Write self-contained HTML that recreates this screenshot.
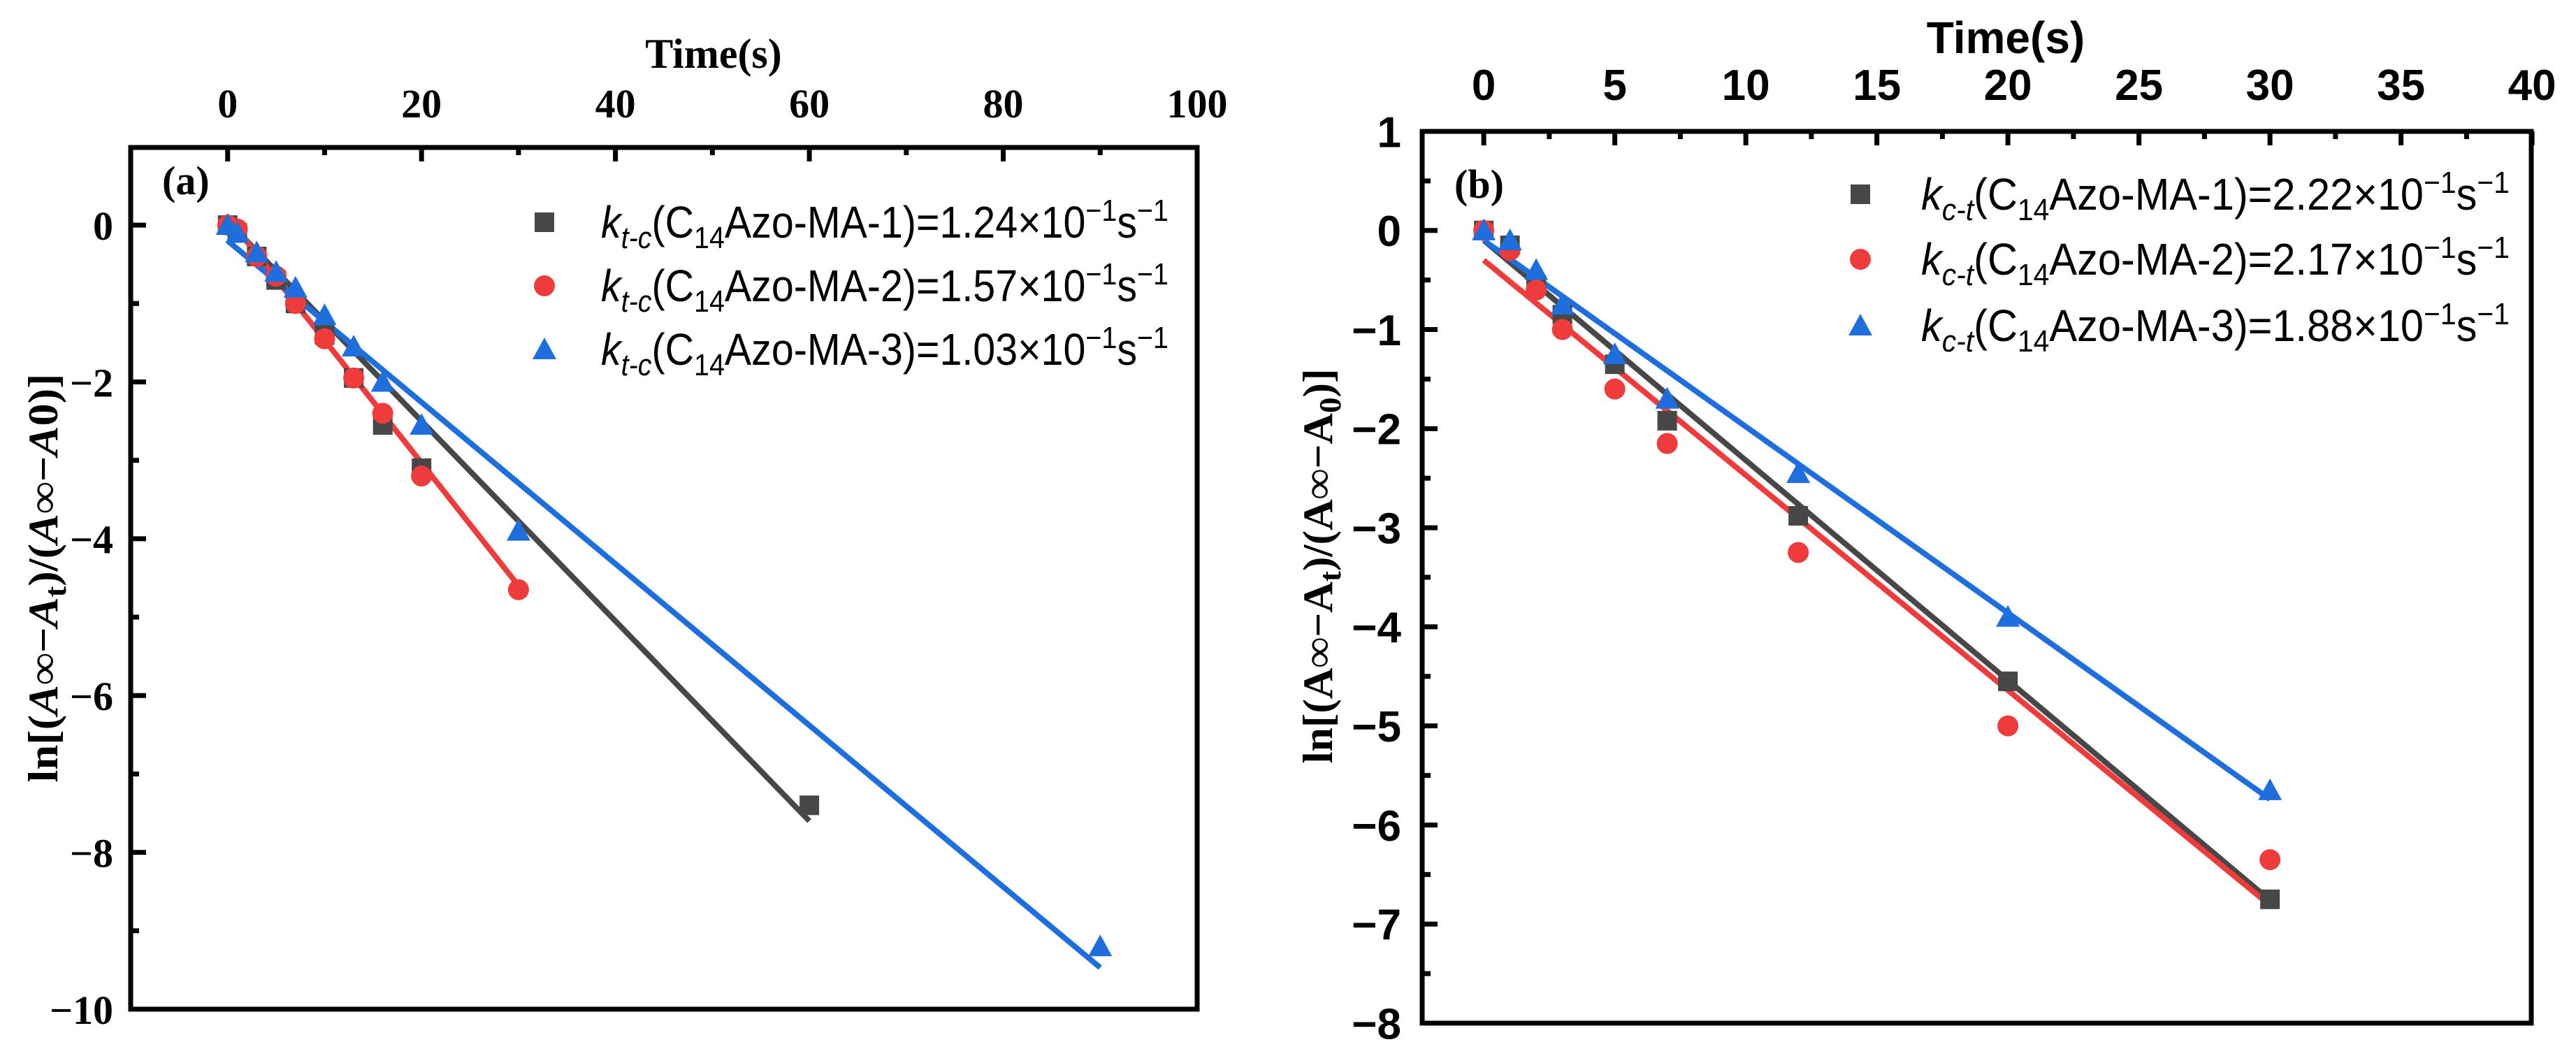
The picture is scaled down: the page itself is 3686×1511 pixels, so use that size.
<!DOCTYPE html>
<html><head><meta charset="utf-8"><style>
html,body{margin:0;padding:0;background:#fff;overflow:hidden;}
svg{display:block;}
.tm{font-family:"Liberation Serif",serif;font-weight:bold;}
.ar{font-family:"Liberation Sans",sans-serif;}
.arb{font-family:"Liberation Sans",sans-serif;font-weight:bold;}
</style></head><body>
<svg id="chart" width="3686" height="1511" viewBox="0 0 3686 1511" xmlns="http://www.w3.org/2000/svg"></svg>
<script>
// Panel (a) data
const aXTicks = [0,20,40,60,80,100];
const aYTicks = [0,-2,-4,-6,-8,-10];
const aS1x = [0,1,3,5,7,10,13,16,20,60];
const aS1y = [0,-0.1,-0.4,-0.7,-1.0,-1.4,-1.95,-2.55,-3.1,-7.4];
const aS2x = [0,1,3,5,7,10,13,16,20,30];
const aS2y = [0,-0.05,-0.4,-0.65,-1.0,-1.45,-1.95,-2.4,-3.2,-4.65];
const aS3x = [0,1,3,5,7,10,13,16,20,30,90];
const aS3y = [0,-0.1,-0.35,-0.6,-0.8,-1.15,-1.55,-2.0,-2.55,-3.9,-9.2];
const aFitX = [[0,60],[0,30],[0,90]];
const aFitY = [[0.05,-7.6],[0.1,-4.6],[-0.2,-9.47]];
const aLegend = ["1.24","1.57","1.03"];
// Panel (b) data
const bXTicks = [0,5,10,15,20,25,30,35,40];
const bYTicks = [1,0,-1,-2,-3,-4,-5,-6,-7,-8];
const bS1x = [0,1,2,3,5,7,12,20,30];
const bS1y = [0,-0.15,-0.55,-0.85,-1.35,-1.92,-2.88,-4.55,-6.75];
const bS2x = [0,1,2,3,5,7,12,20,30];
const bS2y = [0,-0.2,-0.6,-1.0,-1.6,-2.15,-3.25,-5.0,-6.35];
const bS3x = [0,1,2,3,5,7,12,20,30];
const bS3y = [0,-0.1,-0.4,-0.75,-1.25,-1.7,-2.45,-3.9,-5.65];
const bFitX = [[0,30],[0,30],[0,30]];
const bFitY = [[-0.1,-6.76],[-0.3,-6.81],[-0.1,-5.74]];
const bLegend = ["2.22","2.17","1.88"];

const NS="http://www.w3.org/2000/svg";
const svg=document.getElementById('chart');
const COLORS=['#474747','#ef3b3b','#1e6fdd'];
function mk(tag,attrs,parent){const e=document.createElementNS(NS,tag);for(const k in attrs)e.setAttribute(k,attrs[k]);(parent||svg).appendChild(e);return e;}

function panel(p){
  const g=mk('g',{});
  
  
  const sx=v=>p.x0+(v-p.xmin)*(p.x1-p.x0)/(p.xmax-p.xmin);
  const sy=v=>p.y0+(p.ymax-v)*(p.y1-p.y0)/(p.ymax-p.ymin);
  const frame=mk('rect',{x:p.x0,y:p.y0,width:p.x1-p.x0,height:p.y1-p.y0,fill:'none',stroke:'#000','stroke-width':7},g);
  
  
  p.xt.forEach((v,i)=>{
    const X=sx(v);
    mk('line',{x1:X,y1:p.y0,x2:X,y2:p.y0+20,stroke:'#000','stroke-width':7},g);
    if(i<p.xt.length-1){const m=sx(v+(p.xt[1]-p.xt[0])/2);mk('line',{x1:m,y1:p.y0,x2:m,y2:p.y0+11,stroke:'#000','stroke-width':7},g);}
    const t=mk('text',{x:X,y:p.xly,'text-anchor':'middle','font-size':p.fs,class:p.cls},g);
    t.textContent=v;
    
    
  });
  p.yt.forEach((v,i)=>{
    const Y=sy(v);
    mk('line',{x1:p.x0,y1:Y,x2:p.x0+22,y2:Y,stroke:'#000','stroke-width':7},g);
    if(i<p.yt.length-1){const m=sy(v+(p.yt[1]-p.yt[0])/2);mk('line',{x1:p.x0,y1:m,x2:p.x0+12,y2:m,stroke:'#000','stroke-width':7},g);}
    const t=mk('text',{x:p.ylx,y:Y+p.fs*0.36,'text-anchor':'end','font-size':p.fs,class:p.cls},g);
    t.textContent=(v<0?'\u2212'+(-v):v);
    
    
  });
  const xt=mk('text',{x:p.xtx,y:p.xty,'text-anchor':'middle','font-size':p.tfs,class:p.cls},g);
  xt.textContent='Time(s)';
  
  
  const yt=mk('text',{x:0,y:0,'text-anchor':'middle','font-size':p.yfs,class:'tm',textLength:p.ytw,lengthAdjust:'spacingAndGlyphs',transform:`translate(${p.ytx},${p.yty}) rotate(-90)`},g);
  yt.innerHTML=p.ytitle;
  
  
  const lab=mk('text',{x:p.labX,y:p.labY,'font-size':58,class:'tm'},g);
  lab.textContent=p.label;
  
  
  p.fx.forEach((fx,i)=>{
    const l=mk('line',{x1:sx(fx[0]),y1:sy(p.fy[i][0]),x2:sx(fx[1]),y2:sy(p.fy[i][1]),stroke:COLORS[i],'stroke-width':8},g);
    
    
  });
  const r=14;
  function marker(k,X,Y,parent){
    let e;
    if(k===0) e=mk('rect',{x:X-r,y:Y-r,width:2*r,height:2*r,fill:COLORS[0]},parent);
    else if(k===1) e=mk('circle',{cx:X,cy:Y,r:r+1,fill:COLORS[1]},parent);
    else e=mk('polygon',{points:`${X},${Y-r-3} ${X+r+3},${Y+r} ${X-r-3},${Y+r}`,fill:COLORS[2]},parent);
    return e;
  }
  p.series.forEach((s,k)=>{
    s[0].forEach((xv,j)=>{
      const m=marker(k,sx(xv),sy(s[1][j]),g);
      
      
    });
  });
  p.leg.forEach((val,k)=>{
    const Y=p.legY[k];
    const lm=marker(k,p.legMX,Y,g);
    
    
    const t=mk('text',{x:p.legTX,y:Y+22,'font-size':64,class:'ar',textLength:p.legW,lengthAdjust:'spacingAndGlyphs'},g);
    t.innerHTML=`<tspan font-style="italic">k</tspan><tspan font-style="italic" font-size="44" dy="15">${p.sub}</tspan><tspan dy="-15">(C</tspan><tspan font-size="44" dy="15">14</tspan><tspan dy="-15">Azo-MA-${k+1})=${val}\u00d710</tspan><tspan font-size="44" dy="-24">\u22121</tspan><tspan dy="24">s</tspan><tspan font-size="44" dy="-24">\u22121</tspan>`;
    
    
  });
}

panel({name:'panel-a',x0:187,x1:1713,y0:211,y1:1444,xmin:-10.0,xmax:100,ymin:-10,ymax:0.99,
 xt:aXTicks,yt:aYTicks,xly:168,ylx:162,fs:58,tfs:60,cls:'tm',xtx:1021,xty:97,
 ytx:82,yty:827,yfs:60,ytw:585,ytitle:'ln[(<tspan font-style="italic">A</tspan>\u221e\u2212<tspan font-style="italic">A</tspan><tspan font-size="44" dy="12">t</tspan><tspan dy="-12">)/(</tspan><tspan font-style="italic">A</tspan>\u221e\u2212<tspan font-style="italic">A</tspan>0)]',
 labX:232,labY:278,label:'(a)',fx:aFitX,fy:aFitY,series:[[aS1x,aS1y],[aS2x,aS2y],[aS3x,aS3y]],
 leg:aLegend,legY:[318,409,500],legMX:779,legTX:860,legW:812,sub:'t-c'});
panel({name:'panel-b',x0:2035,x1:3622,y0:188,y1:1464,xmin:-2.35,xmax:39.97,ymin:-8,ymax:1,
 xt:bXTicks,yt:bYTicks,xly:143,ylx:2005,fs:62,tfs:64,cls:'arb',xtx:2870,xty:76,
 ytx:1906,yty:810,yfs:60,ytw:565,ytitle:'ln[(A\u221e\u2212A<tspan font-size="44" dy="12">t</tspan><tspan dy="-12">)/(A\u221e\u2212A</tspan><tspan font-size="44" dy="12">0</tspan><tspan dy="-12">)]</tspan>',
 labX:2081,labY:283,label:'(b)',fx:bFitX,fy:bFitY,series:[[bS1x,bS1y],[bS2x,bS2y],[bS3x,bS3y]],
 leg:bLegend,legY:[278,371,466],legMX:2662,legTX:2749,legW:842,sub:'c-t'});
</script>
</body></html>
